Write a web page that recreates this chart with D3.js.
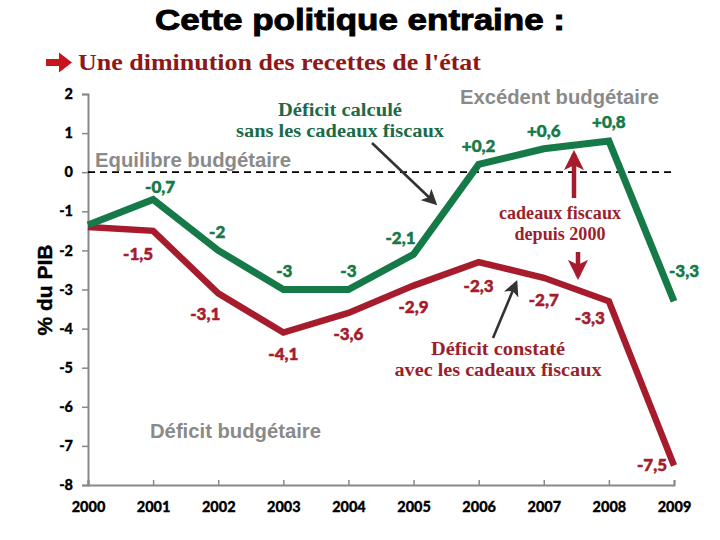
<!DOCTYPE html>
<html><head><meta charset="utf-8">
<script src="https://cdn.jsdelivr.net/npm/d3@7"></script>
<style>body{margin:0;background:#fff}svg{display:block}</style>
</head><body>
<script>
const years = [2000,2001,2002,2003,2004,2005,2006,2007,2008,2009];
const sansCadeaux = [-1.35,-0.7,-2,-3,-3,-2.1,0.2,0.6,0.8,-3.3];
const avecCadeaux = [-1.4,-1.5,-3.1,-4.1,-3.6,-2.9,-2.3,-2.7,-3.3,-7.5];
const yTicks = [2,1,0,-1,-2,-3,-4,-5,-6,-7,-8];

// label placement offsets (px) relative to each point
const greenOff = [null,[7,-13],[-1,-19],[1,-19],[0,-19],[-13,-17],[0,-19],[0,-18],[0,-19],[10,-31]];
const redOff = [null,[-15,23],[-13,20],[0,21],[0,21],[0,21],[0,23],[0,22],[-19,16],[-22,-1]];

const W=720,H=540;
const GREEN="#157a47", RED="#a61c2c", GREY="#8a8a8a";
const svg=d3.select("body").append("svg").attr("width",W).attr("height",H);

const x=d3.scaleLinear().domain([2000,2009]).range([88,674]);
const y=d3.scaleLinear().domain([2,-8]).range([94,485]);
const LBL="Lato, Carlito, sans-serif";

// Title
svg.append("text").attr("x",155).attr("y",30)
  .attr("font-family","Liberation Sans, Arial, sans-serif").attr("font-weight","bold")
  .attr("font-size",29).attr("fill","#000").attr("stroke","#000").attr("stroke-width",0.9)
  .attr("textLength",410).attr("lengthAdjust","spacingAndGlyphs").text("Cette politique entraine :");
// bullet arrow
svg.append("path").attr("d","M46,59 L59,59 L59,52.5 L72,62.5 L59,72.5 L59,66 L46,66 Z").attr("fill","#c8141c");
svg.append("text").attr("x",78).attr("y",70)
  .attr("font-family","Liberation Serif, Times New Roman, serif").attr("font-weight","bold").attr("font-size",23).attr("fill","#8e1717")
  .attr("textLength",403).attr("lengthAdjust","spacingAndGlyphs").text("Une diminution des recettes de l'état");

// Axes
const yAxis=svg.append("g").attr("transform","translate(88,0)")
  .call(d3.axisLeft(y).tickValues(yTicks).tickSize(6).tickPadding(9).tickFormat(d=>String(d)));
const xAxis=svg.append("g").attr("transform","translate(0,485)")
  .call(d3.axisBottom(x).tickValues(years).tickSize(-5).tickPadding(14).tickFormat(d3.format("d")));
[yAxis,xAxis].forEach(g=>{
  g.select(".domain").attr("stroke","#888").attr("stroke-width",2);
  g.selectAll(".tick line").attr("stroke","#888").attr("stroke-width",1.5);
  g.selectAll(".tick text").attr("fill","#000").attr("font-family",LBL)
    .attr("font-weight",900).attr("font-size",14.5).attr("stroke","#000").attr("stroke-width",0.3);
});
xAxis.selectAll(".tick text").attr("dy","0.9em");

// Y label
svg.append("text").attr("transform","translate(52,290) rotate(-90)").attr("text-anchor","middle")
  .attr("font-family","Liberation Sans, Arial, sans-serif").attr("font-weight","bold")
  .attr("font-size",21).attr("fill","#000").attr("stroke","#000").attr("stroke-width",0.4).text("% du PIB");

// zero line
svg.append("line").attr("x1",x(2000)).attr("x2",x(2009)).attr("y1",y(0)).attr("y2",y(0))
  .attr("stroke","#000").attr("stroke-width",1.8).attr("stroke-dasharray","7,5");

// zone labels
const zone=(t,xx,yy,w)=>svg.append("text").attr("x",xx).attr("y",yy)
  .attr("font-family","Liberation Sans, Arial, sans-serif").attr("font-weight","bold")
  .attr("font-size",20).attr("fill",GREY).attr("textLength",w).attr("lengthAdjust","spacingAndGlyphs").text(t);
zone("Equilibre budgétaire",95,167,196);
zone("Excédent budgétaire",460,104,199);
zone("Déficit budgétaire",150,438,171);

// lines
const line=d3.line().x((d,i)=>x(years[i])).y(d=>y(d));
svg.append("path").datum(avecCadeaux).attr("d",line).attr("fill","none")
  .attr("stroke",RED).attr("stroke-width",6.5).attr("stroke-linejoin","miter");
svg.append("path").datum(sansCadeaux).attr("d",line).attr("fill","none")
  .attr("stroke",GREEN).attr("stroke-width",7).attr("stroke-linejoin","miter");

const fmt=v=>(v>0?"+":"")+String(v).replace(".",",");
function labels(vals,off,col){
  vals.forEach((v,i)=>{
    if(!off[i])return;
    svg.append("text").attr("x",x(years[i])+off[i][0]).attr("y",y(v)+off[i][1])
      .attr("text-anchor","middle").attr("dominant-baseline","central")
      .attr("font-family",LBL).attr("font-weight",900)
      .attr("font-size",17).attr("fill",col).attr("stroke",col).attr("stroke-width",0.5).text(fmt(v));
  });
}
labels(sansCadeaux,greenOff,GREEN);
labels(avecCadeaux,redOff,RED);

// annotations
const serif="Liberation Serif, Times New Roman, serif";
function note(lines,cx,y0,col,widths){
  lines.forEach((t,i)=>svg.append("text").attr("x",cx-widths[i]/2).attr("y",y0+i*21)
    .attr("font-family",serif).attr("font-size",18.5).attr("fill",col).attr("font-weight","bold")
    .attr("textLength",widths[i]).attr("lengthAdjust","spacingAndGlyphs").text(t));
}
note(["Déficit calculé","sans les cadeaux fiscaux"],340,116,"#1b6b47",[124,208]);
note(["cadeaux fiscaux","depuis 2000"],560,219,"#9b1f2c",[122,91]);
note(["Déficit constaté","avec les cadeaux fiscaux"],498,355,"#9b1f2c",[134,207]);

const defs=svg.append("defs");
function marker(id,col,s){
  defs.append("marker").attr("id",id).attr("viewBox","0 0 10 10").attr("refX",8).attr("refY",5)
    .attr("markerWidth",s).attr("markerHeight",s).attr("orient","auto")
    .append("path").attr("d","M0,0 L10,5 L0,10 L2.5,5 Z").attr("fill",col);
}
marker("ab","#333",6); marker("ar",RED,4.5);
function arrow(x1,y1,x2,y2,col,id,w){
  svg.append("line").attr("x1",x1).attr("y1",y1).attr("x2",x2).attr("y2",y2)
    .attr("stroke",col).attr("stroke-width",w).attr("marker-end",`url(#${id})`);
}
arrow(372,143,435,203,"#333","ab",2.6);
arrow(493,338,516,283,"#333","ab",2.6);
arrow(574,198,574,154,RED,"ar",4.5);
arrow(578,252,578,276,RED,"ar",4.5);
</script>
</body></html>
